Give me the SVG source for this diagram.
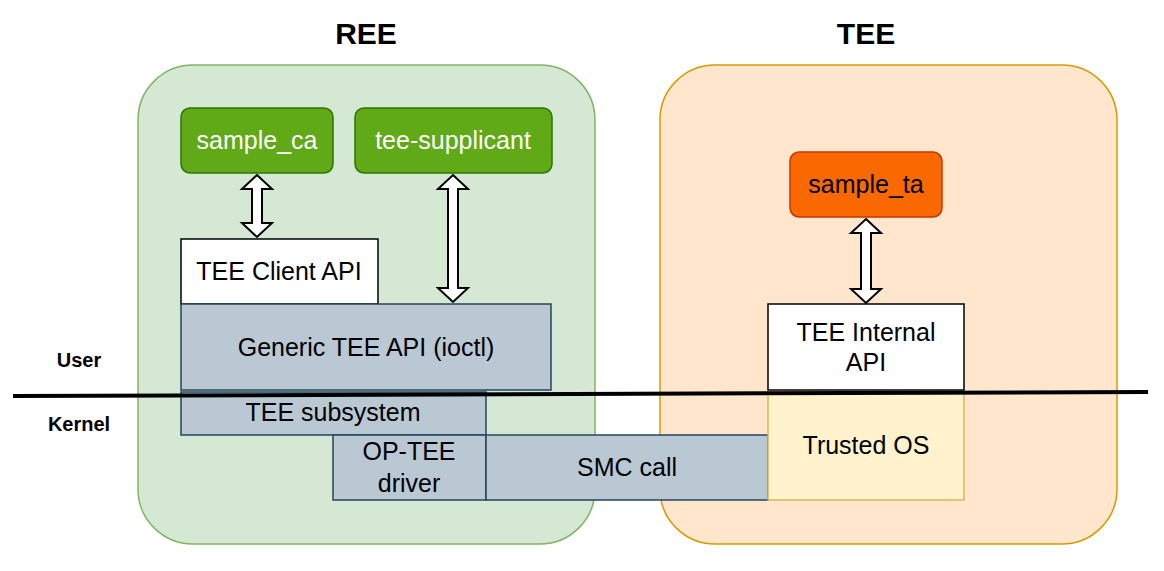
<svg xmlns="http://www.w3.org/2000/svg" width="1164" height="571" viewBox="0 0 1164 571">
<style>
text{font-family:"Liberation Sans",Arial,sans-serif;font-size:25px;text-anchor:middle;fill:#000}
.t{font-weight:bold;font-size:30px}
.s{font-weight:bold;font-size:20px}
.g{fill:#60a917;stroke:#2d7600;stroke-width:1.5}
.o{fill:#fa6800;stroke:#c73500;stroke-width:1.5}
.w{fill:#fff;stroke:#000;stroke-width:1.5}
.b{fill:#bac8d3;stroke:#23445d;stroke-width:1.5}
.wt{fill:#fff}
.ar{fill:#fff;stroke:#000;stroke-width:2;stroke-linejoin:miter}
</style>
<rect width="1164" height="571" fill="#fff"/>
<g id="ree"><rect x="138" y="65" width="457" height="479" rx="55" fill="#d5e8d4" stroke="#82b366" stroke-width="1.5"/><text class="t" x="366" y="44">REE</text></g>
<g id="tee"><rect x="660" y="65" width="457" height="479" rx="55" fill="#ffe6cc" stroke="#d79b00" stroke-width="1.5"/><text class="t" x="866" y="44">TEE</text></g>
<g id="sample_ca"><rect class="g" x="181" y="108" width="152" height="65" rx="9"/><text class="wt" x="257" y="149">sample_ca</text></g>
<g id="tee-supplicant"><rect class="g" x="355" y="108" width="197" height="65" rx="9"/><text class="wt" x="453" y="149">tee-supplicant</text></g>
<g id="sample_ta"><rect class="o" x="790" y="152" width="152" height="65" rx="9"/><text x="866" y="193">sample_ta</text></g>
<g id="client_api"><rect class="w" x="181" y="239" width="197" height="65"/><text x="279" y="280">TEE Client API</text></g>
<g id="generic_api"><rect class="b" x="181" y="304" width="370" height="86"/><text x="366" y="356">Generic TEE API (ioctl)</text></g>
<g id="subsystem"><rect class="b" x="181" y="392" width="305" height="43"/><text x="333" y="421">TEE subsystem</text></g>
<g id="optee_driver"><rect class="b" x="333" y="435" width="153" height="65"/><text x="409" y="460">OP-TEE</text><text x="409" y="492">driver</text></g>
<g id="smc"><rect class="b" x="486" y="435" width="282" height="65"/><text x="627" y="476">SMC call</text></g>
<g id="internal_api"><rect class="w" x="768" y="304" width="196" height="86"/><text x="866" y="341">TEE Internal</text><text x="866" y="371">API</text></g>
<g id="trusted_os"><rect x="768" y="392" width="196" height="108" fill="#fff2cc" stroke="#d6b656" stroke-width="1.5"/><text x="866" y="454">Trusted OS</text></g>
<g id="labels"><text class="s" x="79" y="367">User</text><text class="s" x="79" y="431">Kernel</text></g>
<g id="connectors">
<line x1="13" y1="396" x2="1148" y2="392" stroke="#000" stroke-width="4"/>
<path class="ar" d="M257,175 L272,189 L262,189 L262,223 L272,223 L257,237 L242,223 L252,223 L252,189 L242,189 Z"/>
<path class="ar" d="M453,175 L468,189 L458,189 L458,288 L468,288 L453,302 L438,288 L448,288 L448,189 L438,189 Z"/>
<path class="ar" d="M866,219 L881,233 L871,233 L871,289 L881,289 L866,303 L851,289 L861,289 L861,233 L851,233 Z"/>
</g>
</svg>
